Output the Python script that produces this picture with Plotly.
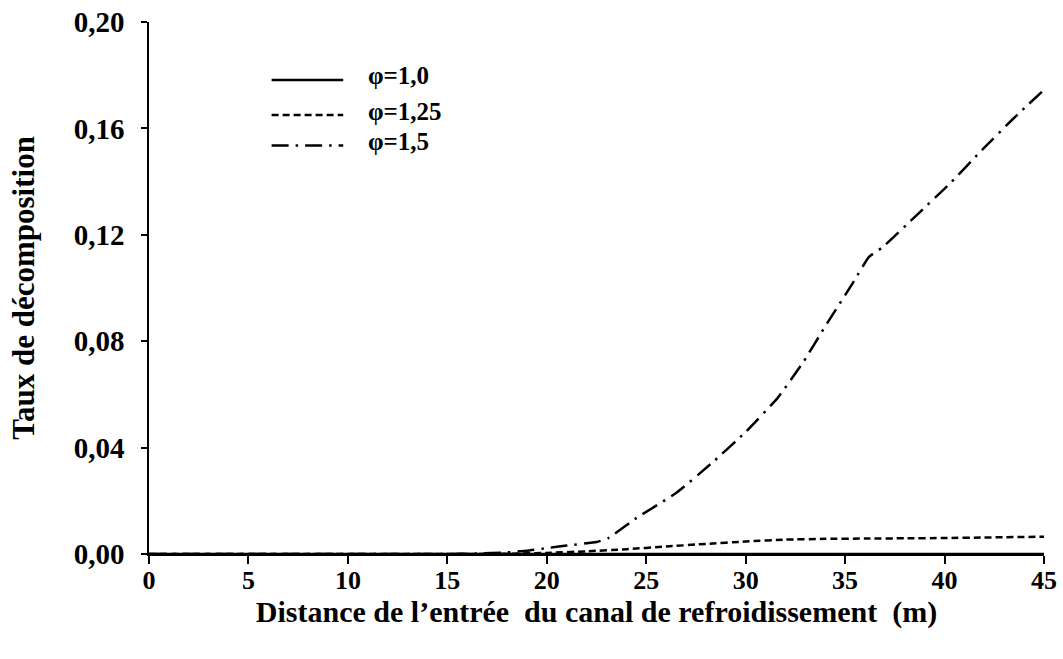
import plotly.graph_objects as go

# Data
x_phi10 = [0, 5, 10, 15, 20, 25, 30, 35, 40, 45]
y_phi10 = [0, 0, 0, 0, 0, 0, 0, 0, 0, 0]

x_phi125 = [0, 5, 10, 15, 18, 20, 22, 24, 26, 28, 30, 32, 34, 36, 38, 40, 42, 45]
y_phi125 = [0, 0, 0, 0, 0.0001, 0.0004, 0.0010, 0.0018, 0.0028, 0.0038, 0.0047, 0.0054, 0.0057, 0.0058, 0.0059, 0.0060, 0.0062, 0.0065]

x_phi15 = [0, 5, 10, 15, 16.5, 18, 19, 20, 21, 22.5, 23.1, 24.5, 26.5, 28.3, 30.0, 31.6, 32.9, 34.1, 35.4, 36.2, 36.9, 38.6, 40.3, 41.9, 43.5, 45]
y_phi15 = [0, 0, 0, 0, 0.0002, 0.0006, 0.0012, 0.0022, 0.0032, 0.0045, 0.0060, 0.0135, 0.0229, 0.0342, 0.0459, 0.0586, 0.0722, 0.0868, 0.1020, 0.1117, 0.1154, 0.1274, 0.1395, 0.1520, 0.1640, 0.1745]

legend_labels = ["φ=1,0", "φ=1,25", "φ=1,5"]
x_ticks = [0, 5, 10, 15, 20, 25, 30, 35, 40, 45]
y_ticks = [0.00, 0.04, 0.08, 0.12, 0.16, 0.20]

FONT = "Liberation Serif"
dashes = ["solid", "7px,4px", "17px,7px,2.5px,7px"]

fig = go.Figure()
series = [(x_phi15, y_phi15, dashes[2]), (x_phi125, y_phi125, dashes[1]), (x_phi10, y_phi10, dashes[0])]
for xs, ys, d in series:
    fig.add_trace(go.Scatter(x=xs, y=ys, mode="lines", line=dict(color="black", width=2.5, dash=d, shape="spline", smoothing=0.4), showlegend=False))

# custom legend (samples drawn in paper coordinates)
leg_y = [0.891, 0.825, 0.768]
for lab, d, yy in zip(legend_labels, dashes, leg_y):
    fig.add_shape(type="line", xref="paper", yref="paper", x0=0.137, x1=0.217, y0=yy, y1=yy,
                  line=dict(color="black", width=2.5, dash=d))
    fig.add_annotation(xref="paper", yref="paper", x=0.243, y=yy, yshift=4, text="<b>%s</b>" % lab, showarrow=False,
                       xanchor="left", yanchor="middle", font=dict(family=FONT, size=25, color="black"))

fig.update_layout(
    width=1063, height=659,
    margin=dict(l=149, r=19, t=22, b=105),
    paper_bgcolor="white", plot_bgcolor="white",
    separators=", ",
    font=dict(family=FONT, color="black"),
)
fig.update_xaxes(range=[0, 45], tickvals=x_ticks, ticktext=["<b>%d</b>" % v for v in x_ticks], automargin=False,
                 showline=True, linecolor="black", linewidth=1.5, ticks="outside", ticklen=8, tickwidth=1.5,
                 tickcolor="black", showgrid=False, zeroline=False, tickfont=dict(family=FONT, size=26),
                 ticklabelstandoff=-6, ticklabeloverflow="allow",
                 title=dict(text="<b>Distance de l’entrée  du canal de refroidissement  (m)</b>",
                            font=dict(family=FONT, size=30), standoff=7))
fig.update_yaxes(range=[0, 0.2], tickvals=y_ticks, ticktext=["<b>%s</b>" % ("%.2f" % v).replace(".", ",") for v in y_ticks],
                 automargin=False,
                 showline=True, linecolor="black", linewidth=1.5, ticks="outside", ticklen=6, tickwidth=1.5,
                 tickcolor="black", showgrid=False, zeroline=False, tickfont=dict(family=FONT, size=29),
                 ticklabelstandoff=11, ticklabeloverflow="allow",
                 title=dict(text="<b>Taux de décomposition</b>", font=dict(family=FONT, size=31), standoff=30))

fig.write_html("out.html", config={"displayModeBar": False},
               post_script="document.body.style.margin='0';")
